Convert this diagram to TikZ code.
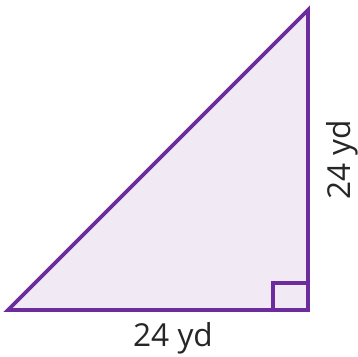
\documentclass[tikz,border=0pt]{standalone}
\usepackage{fontspec}
\setmainfont{Open Sans}
\usepackage{xcolor}
\usepackage{tikz}
\usetikzlibrary{positioning,calc}
\definecolor{edge}{RGB}{108,44,156}
\definecolor{shade}{RGB}{241,234,245}
\tikzset{
  side/.style={draw=edge, line width=2.2pt, line join=miter, fill=shade},
  rightmark/.style={draw=edge, line width=2.2pt},
  len/.style={font=\fontsize{18}{20}\selectfont, text=black!85, inner sep=1pt}
}
\begin{document}
\begin{tikzpicture}[x=0.02cm,y=-0.02cm]
    \useasboundingbox (0,0) rectangle (358,356);
    \coordinate (A) at (8,310);
    \coordinate (B) at (308,310);
    \coordinate (C) at (308,10);
    \draw[side] (A) -- (B) -- (C) -- cycle;
    % right angle
    \draw[rightmark] ($(B)+(-35,0)$) |- ($(B)+(0,-27)$);
    \node[len] (base) at (173,338) {24 yd};
    \node[len, rotate=90] (height) at (342,160) {24 yd};
  \end{tikzpicture}
\end{document}
